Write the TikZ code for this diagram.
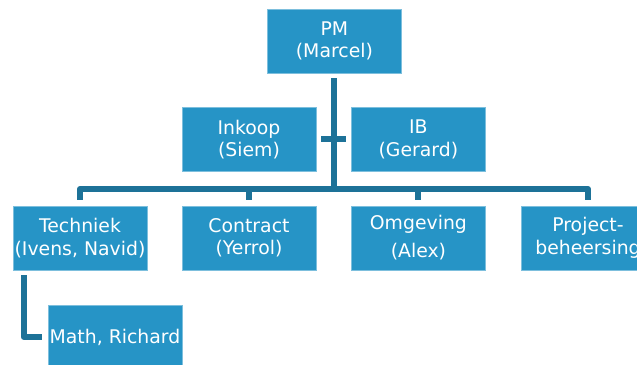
\documentclass[tikz,border=0pt]{standalone}
\usepackage{fontspec}
\setmainfont{DejaVu Sans}
\usepackage{tikz}
\usepackage{tkz-euclide}
\usetikzlibrary{calc}
\usetikzlibrary{arrows.meta}

\definecolor{boxblue}{RGB}{38,148,198}
\definecolor{lineblue}{RGB}{29,114,152}

\tikzset{
    rolebox/.style={rectangle,fill=boxblue,draw=boxblue!60!white,line width=0.4pt,
        text=white,minimum width=3.35cm,minimum height=1.6cm,inner sep=0pt,
        align=center,font=\fontsize{13.4}{16}\selectfont},
    orgline/.style={lineblue,line width=0.15cm,line join=round,line cap=butt,
        shorten <=0.13cm,shorten >=0.14cm}
}

\begin{document}
\begin{tikzpicture}[scale=1.0]
                \useasboundingbox (0,0) rectangle (15.925,9.125);
                \clip (0,0) rectangle (15.925,9.125);

                \tkzDefPoint(8.36,4.4){J}

                \node[rolebox] (pm) at (8.36,8.1) {PM\\(Marcel)};

                \node[rolebox] (inkoop) at (6.225,5.64) {Inkoop\\(Siem)};
                \node[rolebox] (ib) at (10.46,5.64) {IB\\(Gerard)};

                \node[rolebox] (techniek) at (2.0,3.175) {Techniek\\(Ivens, Navid)};
                \node[rolebox] (contract) at (6.225,3.175) {Contract\\(Yerrol)};
                \node[rolebox] (omgeving) at (10.46,3.175)
                    {Omgeving\\[4pt](Alex)};
                \node[rolebox] (beheersing) at (14.7,3.175) {Project-\\beheersing};

                \node[rolebox] (math) at (2.875,0.7) {Math, Richard};

                \draw[orgline,shorten >=0pt] (pm) -- (J);
                \draw[orgline,shorten <=0pt] (J) -| (techniek);
                \draw[orgline,shorten <=0pt] (J) -| (contract);
                \draw[orgline,shorten <=0pt] (J) -| (omgeving);
                \draw[orgline,shorten <=0pt] (J) -| (beheersing);

                \draw[orgline] (inkoop) -- (ib);

                \draw[orgline] ([xshift=0.275cm]techniek.south west) |- (math);
            \end{tikzpicture}
\end{document}
